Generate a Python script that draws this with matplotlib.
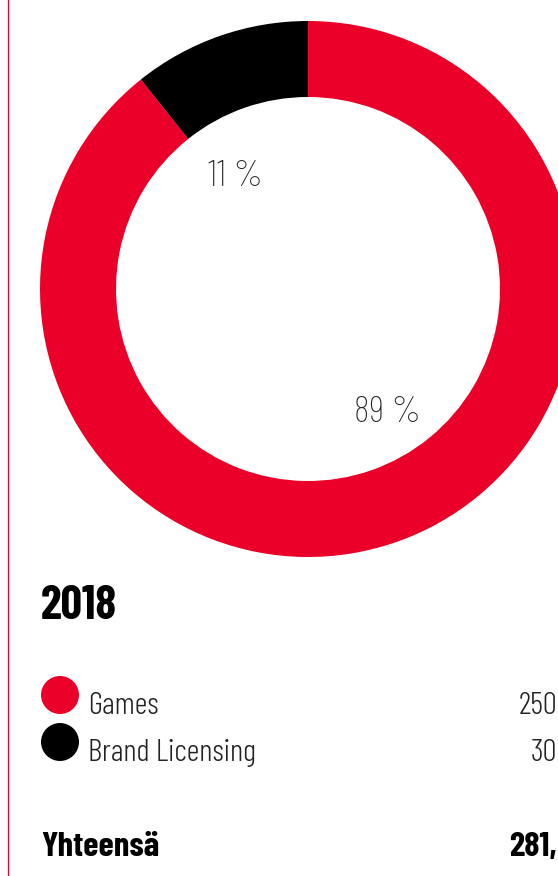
import matplotlib
matplotlib.use("Agg")
import matplotlib.pyplot as plt
from matplotlib.patches import Circle

# data
year = "2018"
categories = ["Games", "Brand Licensing"]
values = [250, 30]
value_labels = ["250", "30"]
total_label = "281,"
percent_labels = ["89 %", "11 %"]
colors = ["#EA0029", "#000000"]

W, H = 558, 876
fig = plt.figure(figsize=(W / 100, H / 100), dpi=100)
ax = fig.add_axes([0, 0, 1, 1])

font = ["Barlow Condensed", "DejaVu Sans"]

# donut (pixel coordinates, y measured from bottom)
cx, cy, r = 308, H - 289, 268
ax.pie(values, colors=colors, startangle=90, counterclock=False,
       radius=r, center=(cx, cy), wedgeprops=dict(width=76, linewidth=0))
ax.set_xlim(0, W)
ax.set_ylim(0, H)
ax.set_aspect("auto")
ax.axis("off")

# percent labels inside the hole
ax.text(388, H - 422, percent_labels[0], fontsize=27, family=font, fontweight=250,
        color="#222222", ha="center", va="baseline")
ax.text(236, H - 186, percent_labels[1], fontsize=27, family=font, fontweight=250,
        color="#222222", ha="center", va="baseline")

# left rule
ax.plot([8, 8], [0, H], color=colors[0], lw=0.9)

# title
ax.text(41, H - 619, year, fontsize=34, family=font, fontweight=650,
        ha="left", va="baseline")

# legend rows
rows_y = [714, 761]
for cat, val, col, y in zip(categories, value_labels, colors, rows_y):
    ax.add_patch(Circle((60, H - y + 19), 19, color=col, lw=0))
    ax.text(88, H - y, cat, fontsize=22.5, family=font, fontweight=300, ha="left",
            va="baseline", color="#222222")
    ax.text(557, H - y, val, fontsize=22.5, family=font, fontweight=300, ha="right",
            va="baseline", color="#222222")

# total
ax.text(41, H - 856, "Yhteensä", fontsize=25, family=font, fontweight=650,
        ha="left", va="baseline")
ax.text(557, H - 856, total_label, fontsize=25, family=font, fontweight=650,
        ha="right", va="baseline")

fig.savefig("out.png", dpi=100)
